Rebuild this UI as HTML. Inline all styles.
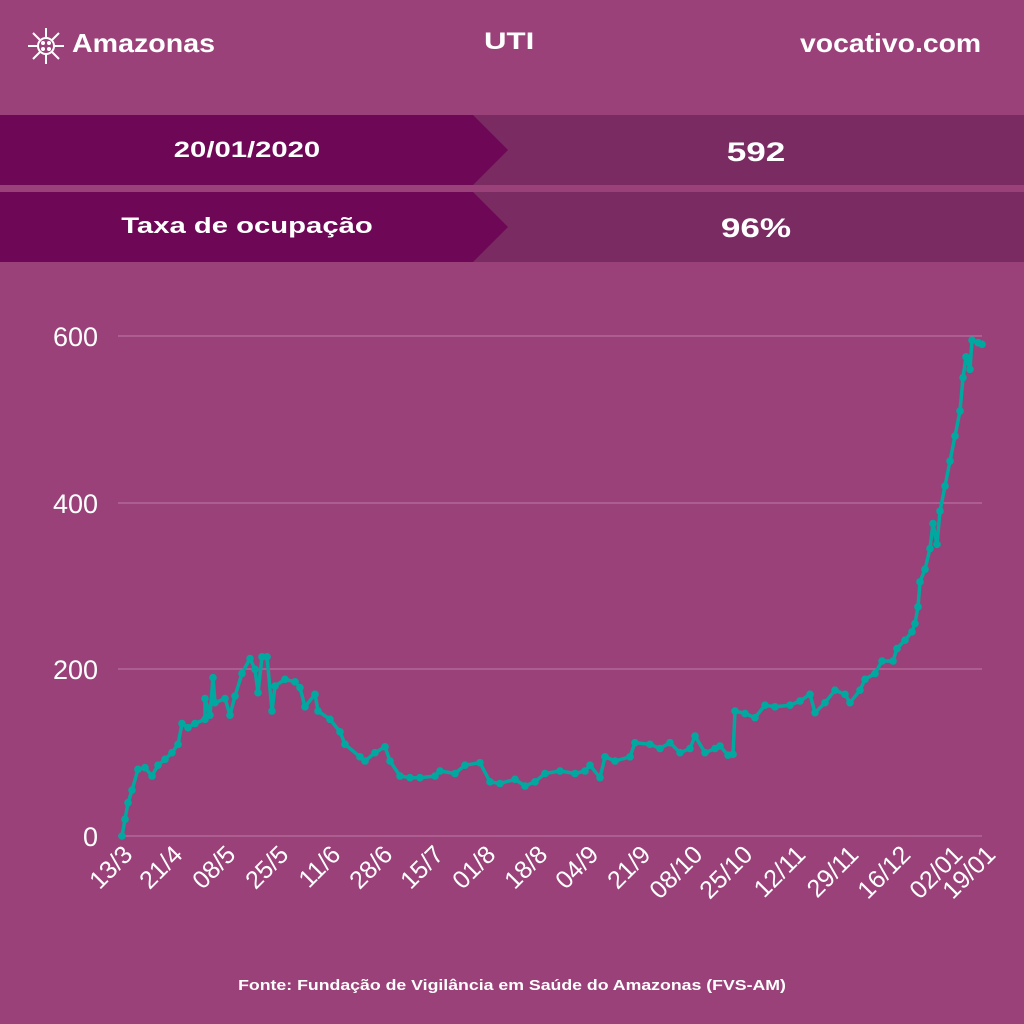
<!DOCTYPE html>
<html><head><meta charset="utf-8"><style>
body{margin:0;width:1024px;height:1024px;background:#9b4179;overflow:hidden;font-family:"Liberation Sans",sans-serif;position:relative}
.t{position:absolute;color:#fff;font-weight:bold;white-space:nowrap}
.c{left:0;text-align:center}
</style></head><body>
<div class="t" style="left:72px;top:28px;font-size:26px;transform:scaleX(1.1);transform-origin:0 0">Amazonas</div>
<svg style="position:absolute;left:26px;top:26px" width="40" height="40" viewBox="0 0 40 40"><g stroke="#fff" stroke-width="2" fill="none"><circle cx="20" cy="20" r="8"/><path d="M20 2v10M20 28v10M2 20h10M28 20h10M7 7l7 7M26 26l7 7M33 7l-7 7M7 33l7-7"/></g><g fill="#fff"><circle cx="17" cy="17" r="2"/><circle cx="23" cy="17" r="2"/><circle cx="17" cy="23" r="2"/><circle cx="23" cy="23" r="2"/></g></svg>
<div class="t" style="left:484px;top:28px;font-size:24px;transform:scaleX(1.3);transform-origin:0 0">UTI</div>
<div class="t" style="left:800px;top:28px;font-size:26px;transform:scaleX(1.09);transform-origin:0 0">vocativo.com</div>
<svg style="position:absolute;left:0;top:0" width="1024" height="270">
<rect x="0" y="115" width="1024" height="70" fill="#7a2b62"/>
<rect x="0" y="192" width="1024" height="70" fill="#7a2b62"/>
<polygon points="0,115 473,115 508,150 473,185 0,185" fill="#6e0756"/>
<polygon points="0,192 473,192 508,227 473,262 0,262" fill="#6e0756"/>
</svg>
<div class="t c" style="width:494px;top:137px;font-size:22px;transform:scaleX(1.33);transform-origin:247px 0">20/01/2020</div>
<div class="t c" style="width:494px;top:213px;font-size:22px;transform:scaleX(1.33);transform-origin:247px 0">Taxa de ocupação</div>
<div class="t c" style="left:508px;width:496px;top:137px;font-size:27px;transform:scaleX(1.3);transform-origin:248px 0">592</div>
<div class="t c" style="left:508px;width:496px;top:213px;font-size:27px;transform:scaleX(1.3);transform-origin:248px 0">96%</div>
<svg id="c" style="position:absolute;left:0;top:0" width="1024" height="1024">
<g stroke="#b871a0" stroke-width="1.2">
<line x1="118" y1="336" x2="982" y2="336"/><line x1="118" y1="503" x2="982" y2="503"/><line x1="118" y1="669" x2="982" y2="669"/><line x1="118" y1="836" x2="982" y2="836"/></g>
<g fill="#fff" font-size="27" text-anchor="end" font-family="Liberation Sans,sans-serif">
<text x="98" y="346">600</text><text x="98" y="513">400</text><text x="98" y="679">200</text><text x="98" y="846">0</text></g>
<g id="xl" fill="#fff" font-size="25" text-anchor="end" font-family="Liberation Sans,sans-serif"></g>
<polyline id="pl" fill="none" stroke="#00a8a0" stroke-width="3.5" stroke-linejoin="round"/>
<g id="dots" fill="#00a8a0"></g>
</svg>
<div class="t c" style="width:1024px;top:977px;font-size:15px;transform:scaleX(1.18);transform-origin:512px 0">Fonte: Fundação de Vigilância em Saúde do Amazonas (FVS-AM)</div>
<script>
var d=[122,0,125,20,128,40,132,55,138,80,145,82,152,72,158,85,165,92,172,100,178,110,182,135,188,130,195,135,205,140,205,165,210,145,213,190,215,160,225,165,230,145,235,168,242,195,250,213,255,200,258,172,262,215,267,215,272,150,275,180,285,188,295,185,300,178,305,155,315,170,318,150,330,140,340,125,345,110,360,95,365,90,375,100,385,107,390,90,400,72,410,70,420,70,435,72,440,78,455,75,465,85,480,88,490,65,500,63,515,68,525,60,535,65,545,75,560,78,575,75,585,78,590,85,600,70,605,95,615,90,630,95,635,112,650,110,660,105,670,112,680,100,690,105,695,120,705,100,715,105,720,108,728,97,733,98,735,150,745,147,755,142,765,157,775,155,790,157,800,162,810,170,815,148,825,160,835,175,845,170,850,160,860,175,865,188,875,195,882,210,893,210,897,225,905,235,912,245,915,255,918,275,920,305,925,320,930,345,933,375,937,350,940,390,945,420,950,450,955,480,960,510,963,550,966,575,970,560,972,595,978,592,982,590];
var ns="http://www.w3.org/2000/svg",pts=[],g=document.getElementById('dots');
for(var i=0;i<d.length;i+=2){var x=d[i],y=836-d[i+1]*0.8333;pts.push(x+','+y.toFixed(1));
var c=document.createElementNS(ns,'circle');c.setAttribute('cx',x);c.setAttribute('cy',y);c.setAttribute('r',3.8);g.appendChild(c);}
document.getElementById('pl').setAttribute('points',pts.join(' '));
var L=[["13/3",122],["21/4",172],["08/5",225],["25/5",278],["11/6",330],["28/6",382],["15/7",433],["01/8",485],["18/8",537],["04/9",588],["21/9",640],["08/10",692],["25/10",742],["12/11",795],["29/11",848],["16/12",900],["02/01",952],["19/01",985]];
var xl=document.getElementById('xl');
L.forEach(function(l){var t=document.createElementNS(ns,'text');t.setAttribute('transform','translate('+(l[1]+12)+',856) rotate(-45)');t.textContent=l[0];xl.appendChild(t);});
</script>
</body></html>
